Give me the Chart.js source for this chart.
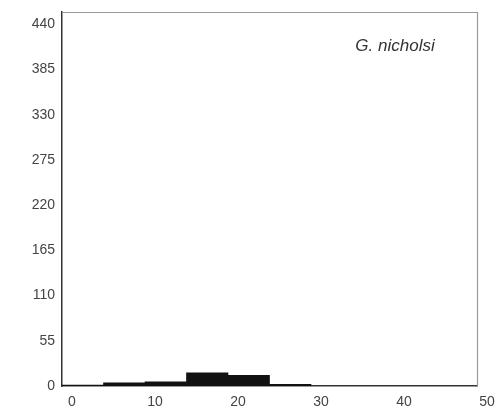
<!DOCTYPE html>
<html>
<head>
<meta charset="utf-8">
<script src="https://cdn.jsdelivr.net/npm/chart.js@4/dist/chart.umd.min.js"></script>
<style>
  html, body { margin: 0; padding: 0; background: #fff; }
  canvas { display: block; }
</style>
</head>
<body>
<canvas id="c" width="496" height="414"></canvas>
<script>
// histogram bins (5 units wide), bin centres and counts
const binCenters = [2.5, 7.5, 12.5, 17.5, 22.5, 27.5];
const counts = [1, 4, 5, 16, 13, 2];
const xTicks = [0, 10, 20, 30, 40, 50];
const yTicks = [0, 55, 110, 165, 220, 275, 330, 385, 440];
const speciesLabel = 'G. nicholsi';

const FONT = "'Liberation Sans', Arial, sans-serif";

// light frame on top and right, species name in the corner
const frame = {
  id: 'frame',
  afterDraw(chart) {
    const { ctx, chartArea: a } = chart;
    ctx.save();
    ctx.strokeStyle = '#9a9a9a';
    ctx.lineWidth = 1.2;
    ctx.beginPath();
    ctx.moveTo(a.left, a.top + 0.5);
    ctx.lineTo(a.right + 0.5, a.top + 0.5);
    ctx.lineTo(a.right + 0.5, a.bottom);
    ctx.stroke();
    ctx.font = `italic 17px ${FONT}`;
    ctx.fillStyle = '#333';
    ctx.textAlign = 'center';
    ctx.textBaseline = 'middle';
    ctx.fillText(speciesLabel, 395, 46);
    ctx.restore();
  },
};

new Chart(document.getElementById('c'), {
  type: 'bar',
  data: {
    datasets: [{
      data: binCenters.map((x, i) => ({ x, y: counts[i] })),
      backgroundColor: '#111',
      borderWidth: 0,
      barPercentage: 1,
      categoryPercentage: 1,
    }],
  },
  options: {
    responsive: false,
    animation: false,
    layout: { padding: { top: 12, right: 19, left: 0, bottom: 0 } },
    plugins: { legend: { display: false }, tooltip: { enabled: false } },
    scales: {
      x: {
        type: 'linear',
        min: 0,
        max: 50,
        offset: false,
        afterBuildTicks: s => { s.ticks = xTicks.map(v => ({ value: v })); },
        afterFit: s => { s.height = 28; },
        grid: { display: false, drawTicks: false, offset: false },
        border: { color: '#333', width: 1.5 },
        ticks: {
          color: '#444',
          font: { family: FONT, size: 14 },
          labelOffset: 10,
          padding: 8,
          maxRotation: 0,
        },
      },
      y: {
        min: 0,
        max: 455,
        afterBuildTicks: s => { s.ticks = yTicks.map(v => ({ value: v })); },
        afterFit: s => { s.width = 62; s.paddingTop = 0; s.paddingBottom = 0; },
        grid: { display: false, drawTicks: false },
        border: { color: '#333', width: 1.5 },
        ticks: {
          color: '#444',
          font: { family: FONT, size: 14 },
          padding: 7,
        },
      },
    },
  },
  plugins: [frame],
});
</script>
</body>
</html>
